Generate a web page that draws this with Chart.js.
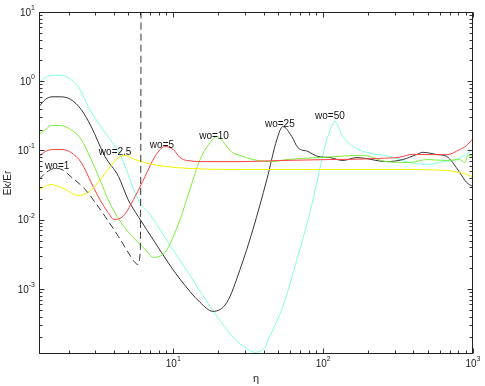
<!DOCTYPE html>
<html>
<head>
<meta charset="utf-8">
<script src="https://cdn.jsdelivr.net/npm/chart.js@4.4.1/dist/chart.umd.min.js"></script>
<style>
  body { margin: 0; background: #fff; }
  #wrap { width: 485px; height: 386px; }
</style>
</head>
<body>
<div id="wrap"><canvas id="chart" width="485" height="386"></canvas></div>
<script>
// ---------------- data ----------------

// wo=1 (dashed)
const wo1X = [1.27, 1.40, 1.62, 1.81, 2.07, 2.58, 3.01, 3.50, 4.31, 4.99, 5.56, 5.82, 6.00, 6.06, 6.09];
const wo1Y = [0.038, 0.047, 0.055, 0.053, 0.042, 0.0274, 0.0178, 0.0112, 0.0057, 0.0034, 0.0024, 0.00226, 0.0032, 0.03, 12];

// wo=2.5 (yellow)
const wo25X = [1.27, 1.40, 1.53, 1.70, 1.90, 2.32, 2.70, 3.15, 3.67, 4.31, 4.77, 5.56, 6.78, 8.8, 12.9, 27.9, 144, 310, 668, 815, 907, 1000];
const wo25Y = [0.0274, 0.0303, 0.0323, 0.0303, 0.0274, 0.0224, 0.0248, 0.0345, 0.0532, 0.079, 0.0846, 0.074, 0.065, 0.0588, 0.055, 0.0532, 0.0532, 0.0532, 0.0514, 0.048, 0.0451, 0.041];

// wo=5 (red)
const wo5X = [1.27, 1.40, 1.58, 1.81, 2.07, 2.43, 2.83, 3.15, 3.67, 4.03, 4.62, 5.56, 6.48, 7.55, 8.8, 10, 11.1, 12.3, 16.8, 27.9, 51.4, 111, 175, 238, 324, 396, 540, 668, 815, 907, 1000];
const wo5Y = [0.082, 0.097, 0.103, 0.103, 0.094, 0.067, 0.0345, 0.0217, 0.0127, 0.0101, 0.0112, 0.0217, 0.042, 0.082, 0.114, 0.103, 0.079, 0.0717, 0.069, 0.069, 0.0717, 0.074, 0.075, 0.077, 0.080, 0.088, 0.087, 0.087, 0.103, 0.118, 0.149];

// wo=10 (green)
const wo10X = [1.27, 1.40, 1.55, 1.76, 2.07, 2.43, 2.83, 3.30, 3.67, 4.48, 5.56, 6.78, 7.3, 8.8, 11.1, 12.9, 15.1, 17.6, 19.5, 21.4, 24.6, 27.9, 34.0, 46.2, 57.3, 95, 184, 266, 378, 491, 668, 815, 881, 923, 1000];
const wo10Y = [0.170, 0.20, 0.23, 0.23, 0.20, 0.144, 0.074, 0.0345, 0.0196, 0.0091, 0.0052, 0.00337, 0.00286, 0.00337, 0.0101, 0.0274, 0.074, 0.130, 0.159, 0.135, 0.094, 0.085, 0.074, 0.069, 0.074, 0.079, 0.085, 0.069, 0.067, 0.074, 0.0717, 0.074, 0.067, 0.085, 0.082];

// wo=25 (black)
const wo250X = [1.27, 1.40, 1.55, 1.76, 2.07, 2.43, 2.83, 3.50, 4.31, 4.99, 5.82, 7.55, 9.22, 11.1, 15.1, 18.4, 22.8, 27.9, 34.0, 42.1, 49.1, 53.8, 61.8, 67.8, 79.1, 92.2, 111, 135, 168, 266, 340, 421, 462, 573, 668, 732, 815, 907, 1000];
const wo250Y = [0.43, 0.545, 0.596, 0.596, 0.545, 0.39, 0.222, 0.082, 0.042, 0.0196, 0.0112, 0.0047, 0.00242, 0.00138, 0.00064, 0.000475, 0.00064, 0.00192, 0.00725, 0.0382, 0.144, 0.222, 0.159, 0.110, 0.097, 0.082, 0.079, 0.0717, 0.079, 0.069, 0.074, 0.0875, 0.094, 0.0875, 0.082, 0.067, 0.048, 0.0346, 0.030];

// wo=50 (cyan)
const wo50X = [1.27, 1.40, 1.62, 1.82, 2.07, 2.39, 2.70, 3.50, 4.48, 5.82, 7.0, 9.22, 12.9, 17.6, 21.1, 25.8, 30.0, 35.1, 40.8, 44.1, 53.8, 69.9, 81.5, 90.8, 98, 106, 120, 135, 158, 195, 278, 378, 514, 628, 778, 1000];
const wo50Y = [0.95, 1.13, 1.22, 1.21, 1.06, 0.76, 0.43, 0.182, 0.082, 0.0196, 0.0119, 0.0047, 0.00157, 0.00056, 0.00032, 0.000187, 0.000144, 0.000122, 0.000144, 0.000207, 0.00056, 0.00373, 0.0127, 0.0345, 0.074, 0.144, 0.262, 0.159, 0.114, 0.094, 0.082, 0.067, 0.063, 0.069, 0.074, 0.103];

// curve labels placed in data space
const annText = ["wo=1", "wo=2.5", "wo=5", "wo=10", "wo=25", "wo=50"];
const annX = [1.68, 4.09, 8.4, 18.7, 51.4, 111];
const annY = [0.06, 0.0935, 0.118, 0.159, 0.237, 0.31];

// axis range and decade tick labels
const xRange = [1.27, 1000];
const yRange = [1.15e-4, 10];
const xTickExps = [1, 2, 3];
const yTickExps = [1, 0, -1, -2, -3];

function pts(xs, ys) {
    return xs.map((x, i) => ({ x: x, y: ys[i] }));
}

const FONT = "'Liberation Sans', Arial, sans-serif";

// inward ticks, frame, decade labels and curve labels
const axesPlugin = {
    id: "axesPlugin",
    afterDraw(chart) {
        const { ctx, chartArea: a, scales } = chart;
        const x = scales.x, y = scales.y;
        const L = Math.round(a.left) + 0.5, R = Math.round(a.right) - 0.5;
        const T = Math.round(a.top) + 0.5, B = Math.round(a.bottom) - 0.5;

        ctx.save();
        ctx.strokeStyle = "#333";
        ctx.lineWidth = 1;

        // x ticks
        for (let e = Math.floor(Math.log10(xRange[0])); e <= Math.ceil(Math.log10(xRange[1])); e++) {
            for (let m = 1; m <= 9; m++) {
                const v = m * Math.pow(10, e);
                if (v < xRange[0] || v > xRange[1]) continue;
                const px = Math.round(x.getPixelForValue(v)) + 0.5;
                const len = m === 1 ? 5 : 3;
                ctx.beginPath();
                ctx.moveTo(px, B); ctx.lineTo(px, B - len);
                ctx.moveTo(px, T); ctx.lineTo(px, T + len);
                ctx.stroke();
            }
        }

        // y ticks
        for (let e = Math.floor(Math.log10(yRange[0])); e <= Math.ceil(Math.log10(yRange[1])); e++) {
            for (let m = 1; m <= 9; m++) {
                const v = m * Math.pow(10, e);
                if (v < yRange[0] || v > yRange[1] * 1.0001) continue;
                const py = Math.round(y.getPixelForValue(v)) + 0.5;
                const len = m === 1 ? 5 : 3;
                ctx.beginPath();
                ctx.moveTo(L, py); ctx.lineTo(L + len, py);
                ctx.moveTo(R, py); ctx.lineTo(R - len, py);
                ctx.stroke();
            }
        }

        // frame
        ctx.strokeStyle = "#222";
        ctx.strokeRect(L, T, R - L, B - T);

        // decade labels
        ctx.fillStyle = "#222";
        ctx.textBaseline = "middle";
        ctx.textAlign = "left";

        xTickExps.forEach(e => {
            const px = x.getPixelForValue(Math.pow(10, e));
            ctx.font = "10px " + FONT;
            const w1 = ctx.measureText("10").width;
            ctx.font = "7px " + FONT;
            const w2 = ctx.measureText(String(e)).width;
            const sx = px - (w1 + w2) / 2;
            ctx.font = "10px " + FONT;
            ctx.fillText("10", sx, a.bottom + 10);
            ctx.font = "7px " + FONT;
            ctx.fillText(String(e), sx + w1, a.bottom + 5);
        });

        yTickExps.forEach(e => {
            const py = y.getPixelForValue(Math.pow(10, e));
            const es = e < 0 ? "-" + Math.abs(e) : String(e);
            ctx.font = "10px " + FONT;
            const w1 = ctx.measureText("10").width;
            ctx.font = "7px " + FONT;
            const w2 = ctx.measureText(es).width;
            const sx = a.left - 4 - (w1 + w2);
            ctx.font = "10px " + FONT;
            ctx.fillText("10", sx, py + 1);
            ctx.font = "7px " + FONT;
            ctx.fillText(es, sx + w1, py - 4);
        });

        // curve labels
        ctx.font = "10px " + FONT;
        ctx.textAlign = "center";
        ctx.fillStyle = "#111";
        annText.forEach((t, i) => {
            ctx.fillText(t, x.getPixelForValue(annX[i]), y.getPixelForValue(annY[i]));
        });

        ctx.restore();
    }
};

function line(data, color, dash) {
    return {
        data: data,
        borderColor: color,
        borderWidth: 1,
        borderDash: dash || [],
        pointRadius: 0,
        fill: false,
        cubicInterpolationMode: "monotone"
    };
}

new Chart(document.getElementById("chart"), {
    type: "line",
    data: {
        datasets: [
            line(pts(wo1X, wo1Y), "#333333", [7, 4]),
            line(pts(wo25X, wo25Y), "#f2f200"),
            line(pts(wo5X, wo5Y), "#ff4040"),
            line(pts(wo10X, wo10Y), "#7cf03a"),
            line(pts(wo250X, wo250Y), "#333333"),
            line(pts(wo50X, wo50Y), "#80ffe0")
        ]
    },
    options: {
        responsive: false,
        animation: false,
        events: [],
        layout: { padding: { top: 12, right: 12, left: 0, bottom: 0 } },
        plugins: { legend: { display: false }, tooltip: { enabled: false } },
        scales: {
            x: {
                type: "logarithmic",
                min: xRange[0],
                max: xRange[1],
                grid: { display: false },
                border: { display: false },
                ticks: { display: false },
                title: {
                    display: true,
                    text: "η",
                    color: "#222",
                    font: { family: FONT, size: 11 },
                    padding: { top: 0, bottom: 0 }
                },
                afterFit(scale) {
                    scale.height = 32;
                    scale.paddingLeft = 0;
                    scale.paddingRight = 0;
                }
            },
            y: {
                type: "logarithmic",
                min: yRange[0],
                max: yRange[1],
                grid: { display: false },
                border: { display: false },
                ticks: { display: false },
                title: {
                    display: true,
                    text: "Ek/Er",
                    color: "#222",
                    font: { family: FONT, size: 10 },
                    padding: { top: 2, bottom: 0 }
                },
                afterFit(scale) {
                    scale.width = 39;
                    scale.paddingTop = 0;
                    scale.paddingBottom = 0;
                }
            }
        }
    },
    plugins: [axesPlugin]
});
</script>
</body>
</html>
